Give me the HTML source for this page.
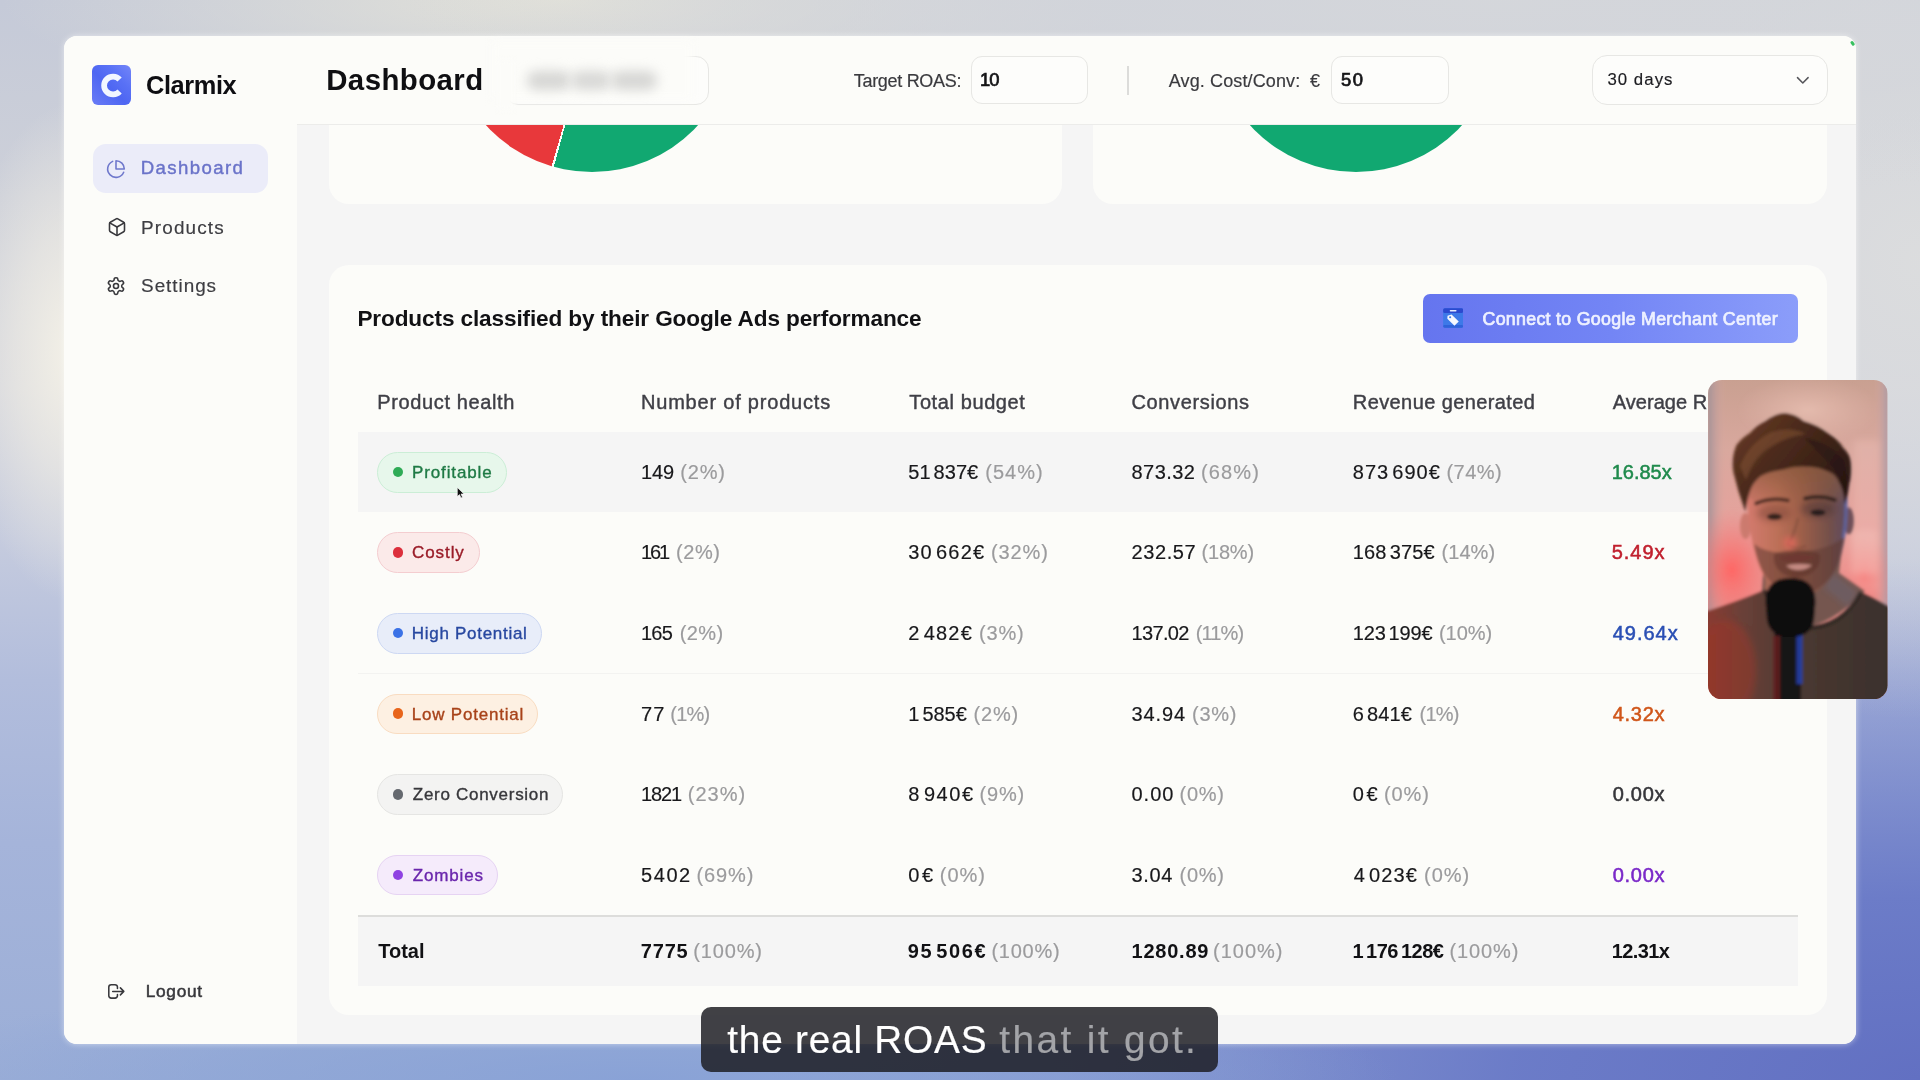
<!DOCTYPE html>
<html lang="en">
<head>
<meta charset="utf-8">
<title>Clarmix Dashboard</title>
<style>
*{box-sizing:border-box;margin:0;padding:0}
html,body{width:1920px;height:1080px;overflow:hidden}
body{font-family:"Liberation Sans",sans-serif;position:relative;background:#b9c2dc}
.a{position:absolute}
#bg{left:0;top:0;width:1920px;height:1080px;
 background:
  radial-gradient(ellipse 115px 250px at 74px 352px, rgba(244,241,231,1) 0%, rgba(241,238,229,.6) 50%, rgba(240,237,228,0) 100%),
  radial-gradient(ellipse 1100px 200px at 1500px 0px, rgba(213,215,219,.95) 0%, rgba(213,215,219,.7) 50%, rgba(213,215,219,0) 100%),
  radial-gradient(ellipse 560px 110px at 560px 0px, rgba(228,227,217,.95) 0%, rgba(226,226,218,0) 100%),
  radial-gradient(ellipse 420px 460px at 1920px 260px, rgba(220,221,222,.95) 0%, rgba(218,219,222,.6) 50%, rgba(218,219,222,0) 100%),
  radial-gradient(ellipse 760px 110px at 640px 1080px, rgba(134,160,214,.85) 0%, rgba(136,162,214,.5) 55%, rgba(140,164,214,0) 100%),
  radial-gradient(ellipse 1150px 520px at 1920px 1080px, rgba(98,112,194,1) 0%, rgba(102,118,198,.9) 35%, rgba(110,130,205,0) 100%),
  linear-gradient(180deg,#c5cad8 0%,#cdd0d9 18%,#d1d3dc 36%,#c5cbde 50%,#b2bddc 63%,#a5b4da 78%,#9baed7 100%);}
#win{left:64px;top:36px;width:1792px;height:1007.5px;border-radius:13px;background:#fcfcf9;overflow:hidden;box-shadow:0 0 6px rgba(255,255,255,.55)}
.card{background:#fcfcf9;border-radius:20px}
.inp{border:1px solid #e7e7e4;background:#fdfdfb}
.pill{height:40.5px;border-radius:21px;border:1px solid;left:377.3px}
.dot{width:10.6px;height:10.6px;border-radius:50%;left:392.7px}
.t{position:absolute;white-space:pre;line-height:1}
.sp{display:inline-block;width:3px}
.tl{left:0;top:0;width:1920px;height:1080px;will-change:transform}
</style>
</head>
<body>
<div id="bg" class="a"></div>

<!-- app window; children use window-relative coords (page x-64, page y-36) -->
<div id="win" class="a">
  <!-- main scroll area -->
  <div class="a" style="left:233px;top:88px;width:1559px;height:920px;background:#f5f5f5"></div>
  <!-- chart cards (cut by header) -->
  <div class="card a" style="left:264.5px;top:-40px;width:733.5px;height:207.7px"></div>
  <div class="card a" style="left:1029px;top:-40px;width:734px;height:207.7px"></div>
  <!-- pies -->
  <div class="a" style="left:383.5px;top:-152px;width:288px;height:288px;border-radius:50%;background:conic-gradient(from 0deg,#11a871 0deg,#11a871 195.4deg,#fcfcf9 195.4deg,#fcfcf9 196.3deg,#e8383b 196.3deg,#e8383b 300deg,#11a871 300deg)"></div>
  <div class="a" style="left:1148px;top:-152px;width:288px;height:288px;border-radius:50%;background:#11a871"></div>
  <!-- table card -->
  <div class="card a" style="left:264.5px;top:229px;width:1498px;height:749.5px"></div>
  <!-- header bar -->
  <div class="a" style="left:233px;top:0;width:1559px;height:88.5px;background:#fcfcf9;border-bottom:1px solid #ececea"></div>
  <!-- sidebar -->
  <div class="a" style="left:0;top:0;width:233px;height:1008px;background:#fcfcf9"></div>
</div>

<!-- ===== sidebar ===== -->
<div class="a" style="left:92.25px;top:65.25px;width:38.75px;height:39.5px;border-radius:6px;background:linear-gradient(45deg,#6a7cf6 0%,#4e66f2 45%,#5a72f6 70%,#7486f8 100%)"></div>
<svg class="a" style="left:92px;top:65px" width="40" height="40" viewBox="92 65 40 40"><path d="M119.61 91.46A8.9 8.9 0 1 1 119.61 79.54" fill="none" stroke="#f2f6ff" stroke-width="5.75"/></svg>
<div class="a" style="left:92.5px;top:144px;width:175.5px;height:48.5px;border-radius:13px;background:#ebecf9"></div>
<svg class="a" style="left:106.3px;top:158.8px" width="20" height="20" viewBox="0 0 24 24" fill="none" stroke="#6f78cc" stroke-width="1.9" stroke-linecap="round" stroke-linejoin="round"><path d="M21.21 15.89A10 10 0 1 1 8 2.83"/><path d="M22 12A10 10 0 0 0 12 2v10z"/></svg>
<svg class="a" style="left:106.5px;top:217.2px" width="20" height="20" viewBox="0 0 24 24" fill="none" stroke="#38383c" stroke-width="1.9" stroke-linecap="round" stroke-linejoin="round"><path d="M21 8a2 2 0 0 0-1-1.73l-7-4a2 2 0 0 0-2 0l-7 4A2 2 0 0 0 3 8v8a2 2 0 0 0 1 1.73l7 4a2 2 0 0 0 2 0l7-4A2 2 0 0 0 21 16Z"/><path d="m3.3 7 8.7 5 8.7-5"/><path d="M12 22V12"/></svg>
<svg class="a" style="left:106.4px;top:275.9px" width="20" height="20" viewBox="0 0 24 24" fill="none" stroke="#38383c" stroke-width="1.9" stroke-linecap="round" stroke-linejoin="round"><path d="M12.22 2h-.44a2 2 0 0 0-2 2v.18a2 2 0 0 1-1 1.73l-.43.25a2 2 0 0 1-2 0l-.15-.08a2 2 0 0 0-2.73.73l-.22.38a2 2 0 0 0 .73 2.73l.15.1a2 2 0 0 1 1 1.72v.51a2 2 0 0 1-1 1.74l-.15.09a2 2 0 0 0-.73 2.73l.22.38a2 2 0 0 0 2.73.73l.15-.08a2 2 0 0 1 2 0l.43.25a2 2 0 0 1 1 1.73V20a2 2 0 0 0 2 2h.44a2 2 0 0 0 2-2v-.18a2 2 0 0 1 1-1.73l.43-.25a2 2 0 0 1 2 0l.15.08a2 2 0 0 0 2.73-.73l.22-.39a2 2 0 0 0-.73-2.73l-.15-.08a2 2 0 0 1-1-1.74v-.5a2 2 0 0 1 1-1.74l.15-.09a2 2 0 0 0 .73-2.73l-.22-.38a2 2 0 0 0-2.73-.73l-.15.08a2 2 0 0 1-2 0l-.43-.25a2 2 0 0 1-1-1.73V4a2 2 0 0 0-2-2z"/><circle cx="12" cy="12" r="3"/></svg>
<svg class="a" style="left:104px;top:980px" width="24" height="24" viewBox="104 980 24 24" fill="none" stroke="#38383c" stroke-width="1.55" stroke-linecap="round" stroke-linejoin="round"><path d="M117.45 988.4V987.1A2.4 2.4 0 0 0 115.05 984.7H111.2A2.4 2.4 0 0 0 108.8 987.1V995.7A2.4 2.4 0 0 0 111.2 998.1H115.05A2.4 2.4 0 0 0 117.45 995.7V994.4"/><path d="M112.7 991.4H123.5M120.4 987.9L123.8 991.4L120.4 994.9"/></svg>

<div class="a" style="left:1850.5px;top:40.5px;width:2.6px;height:4.6px;border-radius:1.3px;background:#38c060;transform:rotate(-35deg)"></div>
<!-- ===== header controls ===== -->
<div class="a inp" style="left:505px;top:55.5px;width:204px;height:49px;border-radius:13px"></div>
<div class="a" style="left:492px;top:42px;width:200px;height:57px;background:#fcfcf9;filter:blur(5px)"></div>
<div class="a" style="left:498px;top:60px;width:16px;height:50px;background:#fcfcf9;filter:blur(3px)"></div>
<div class="a" style="left:527px;top:70.5px;width:44px;height:19px;border-radius:9px;background:#d6d6d4;filter:blur(6px)"></div>
<div class="a" style="left:571px;top:70.5px;width:40px;height:19px;border-radius:9px;background:#d8d8d6;filter:blur(6px)"></div>
<div class="a" style="left:611px;top:70.5px;width:46px;height:19px;border-radius:9px;background:#d6d6d4;filter:blur(6px)"></div>
<div class="a inp" style="left:970.5px;top:55.75px;width:117px;height:48.5px;border-radius:11px"></div>
<div class="a" style="left:1127.4px;top:66px;width:1.3px;height:29px;background:#dcdcda"></div>
<div class="a inp" style="left:1331px;top:55.75px;width:117.75px;height:48.5px;border-radius:11px"></div>
<div class="a inp" style="left:1592.25px;top:55.3px;width:235.5px;height:49.3px;border-radius:15px"></div>
<svg class="a" style="left:1795px;top:74px" width="16" height="13" viewBox="1795 74 16 13"><path d="M1797.5 77.6l5.3 5.4 5.3-5.4" fill="none" stroke="#55555a" stroke-width="1.5" stroke-linecap="round" stroke-linejoin="round"/></svg>

<!-- ===== table chrome ===== -->
<div class="a" style="left:358px;top:431.5px;width:1440px;height:80px;background:#f5f5f5"></div>
<div class="a" style="left:358px;top:673px;width:1440px;height:1px;background:#f3f3f1"></div>
<div class="a" style="left:358px;top:915px;width:1440px;height:71px;background:#f5f5f5;border-top:2px solid #dddddb"></div>

<!-- connect button -->
<div class="a" style="left:1423.25px;top:294.25px;width:374.75px;height:48.25px;border-radius:7px;background:linear-gradient(90deg,#6575ef 0%,#7385f5 50%,#8b9dfa 100%)"></div>
<svg class="a" style="left:1443px;top:308.3px" width="20.3" height="20" viewBox="0 0 20 20"><rect x="0" y="0.3" width="20" height="19.4" rx="2" fill="#3d79e8"/><rect x="0" y="17" width="20" height="2.7" rx="1.4" fill="#2f62da"/><rect x="0" y="0.3" width="20" height="4.8" rx="1.6" fill="#2b49cf"/><rect x="6.6" y="2" width="6.8" height="1.4" rx=".7" fill="#e4eaff"/><path d="M4.4 7.7l4-1.2 7.2 7-4.3 4.2-7.1-7z" fill="#f6f8ff"/><circle cx="7" cy="9.3" r="1.05" fill="#3d79e8"/></svg>

<!-- pills -->
<div class="a pill" style="top:452px;width:129.3px;background:#e7f7eb;border-color:#cbeed6"></div>
<div class="a dot" style="top:466.9px;background:#2fab56"></div>
<div class="a pill" style="top:532.2px;width:103.2px;background:#fbeae9;border-color:#f4cdd0"></div>
<div class="a dot" style="top:547.1px;background:#dc2f3c"></div>
<div class="a pill" style="top:613px;width:164.4px;background:#e8edf9;border-color:#cdd8f3"></div>
<div class="a dot" style="top:627.9px;background:#3b72e6"></div>
<div class="a pill" style="top:693.5px;width:160.4px;background:#fdf0e2;border-color:#f9dcc1"></div>
<div class="a dot" style="top:708.4px;background:#e8651b"></div>
<div class="a pill" style="top:774.1px;width:186px;background:#f3f3f2;border-color:#e5e5e3"></div>
<div class="a dot" style="top:789px;background:#65696f"></div>
<div class="a pill" style="top:854.8px;width:121px;background:#f5ebfb;border-color:#e6d3f3"></div>
<div class="a dot" style="top:869.7px;background:#8f42e2"></div>


<!-- ===== text ===== -->
<div class="a tl">
<div class="t" style="left:146.00px;top:72.70px;font-size:25.4px;font-weight:bold;color:#0e0e12;letter-spacing:-0.400px">Clarmix</div>
<div class="t" style="left:140.80px;top:159.26px;font-size:18.6px;font-weight:normal;color:#6a73c9;letter-spacing:1.387px;-webkit-text-stroke:0.42px #6a73c9">Dashboard</div>
<div class="t" style="left:141.10px;top:218.50px;font-size:18.9px;font-weight:normal;color:#3d3d42;letter-spacing:1.143px;-webkit-text-stroke:0.18px #3d3d42">Products</div>
<div class="t" style="left:141.10px;top:276.75px;font-size:18.9px;font-weight:normal;color:#3d3d42;letter-spacing:0.957px;-webkit-text-stroke:0.18px #3d3d42">Settings</div>
<div class="t" style="left:145.70px;top:983.06px;font-size:17.3px;font-weight:normal;color:#38383c;letter-spacing:0.720px;-webkit-text-stroke:0.52px #38383c">Logout</div>
<div class="t" style="left:326.20px;top:65.11px;font-size:29.4px;font-weight:bold;color:#0f0f12;letter-spacing:0.438px">Dashboard</div>
<div class="t" style="left:853.80px;top:71.76px;font-size:18px;font-weight:normal;color:#3a3a3e;letter-spacing:-0.309px;-webkit-text-stroke:0.18px #3a3a3e">Target ROAS:</div>
<div class="t" style="left:980.00px;top:71.42px;font-size:18.4px;font-weight:normal;color:#141416;letter-spacing:-1.000px;-webkit-text-stroke:0.72px #141416">10</div>
<div class="t" style="left:1168.80px;top:71.76px;font-size:18px;font-weight:normal;color:#3a3a3e;letter-spacing:0.121px;-webkit-text-stroke:0.18px #3a3a3e">Avg. Cost/Conv:</div>
<div class="t" style="left:1310.00px;top:71.76px;font-size:18px;font-weight:normal;color:#3a3a3e;letter-spacing:0.000px;-webkit-text-stroke:0.18px #3a3a3e">€</div>
<div class="t" style="left:1341.00px;top:71.42px;font-size:18.4px;font-weight:normal;color:#141416;letter-spacing:1.500px;-webkit-text-stroke:0.72px #141416">50</div>
<div class="t" style="left:1607.40px;top:71.88px;font-size:16.8px;font-weight:normal;color:#1c1c20;letter-spacing:1.050px;-webkit-text-stroke:0.18px #1c1c20">30 days</div>
<div class="t" style="left:357.40px;top:308.17px;font-size:22.6px;font-weight:bold;color:#111114;letter-spacing:-0.124px">Products classified by their Google Ads performance</div>
<div class="t" style="left:1482.50px;top:310.53px;font-size:17.8px;font-weight:normal;color:#eef1ff;letter-spacing:0.297px;-webkit-text-stroke:0.72px #eef1ff">Connect to Google Merchant Center</div>
<div class="t" style="left:377.30px;top:391.87px;font-size:20px;font-weight:normal;color:#3f3f46;letter-spacing:0.623px;-webkit-text-stroke:0.42px #3f3f46">Product health</div>
<div class="t" style="left:641.00px;top:391.87px;font-size:20px;font-weight:normal;color:#3f3f46;letter-spacing:0.794px;-webkit-text-stroke:0.42px #3f3f46">Number of products</div>
<div class="t" style="left:909.30px;top:391.87px;font-size:20px;font-weight:normal;color:#3f3f46;letter-spacing:0.600px;-webkit-text-stroke:0.42px #3f3f46">Total budget</div>
<div class="t" style="left:1131.50px;top:391.87px;font-size:20px;font-weight:normal;color:#3f3f46;letter-spacing:0.640px;-webkit-text-stroke:0.42px #3f3f46">Conversions</div>
<div class="t" style="left:1352.80px;top:391.87px;font-size:20px;font-weight:normal;color:#3f3f46;letter-spacing:0.406px;-webkit-text-stroke:0.42px #3f3f46">Revenue generated</div>
<div class="t" style="left:1612.70px;top:391.87px;font-size:20px;font-weight:normal;color:#3f3f46;letter-spacing:0.050px;-webkit-text-stroke:0.42px #3f3f46">Average ROAS</div>
<div class="t" style="left:412.00px;top:463.91px;font-size:17px;font-weight:normal;color:#1f7a45;letter-spacing:0.878px;-webkit-text-stroke:0.36px #1f7a45">Profitable</div>
<div class="t" style="left:412.00px;top:544.31px;font-size:17px;font-weight:normal;color:#9a1c28;letter-spacing:0.920px;-webkit-text-stroke:0.36px #9a1c28">Costly</div>
<div class="t" style="left:411.80px;top:625.11px;font-size:17px;font-weight:normal;color:#2848a0;letter-spacing:0.708px;-webkit-text-stroke:0.36px #2848a0">High Potential</div>
<div class="t" style="left:411.80px;top:705.61px;font-size:17px;font-weight:normal;color:#a8431a;letter-spacing:0.792px;-webkit-text-stroke:0.36px #a8431a">Low Potential</div>
<div class="t" style="left:412.80px;top:786.21px;font-size:17px;font-weight:normal;color:#37373b;letter-spacing:0.714px;-webkit-text-stroke:0.36px #37373b">Zero Conversion</div>
<div class="t" style="left:412.80px;top:866.81px;font-size:17px;font-weight:normal;color:#6a26ac;letter-spacing:0.833px;-webkit-text-stroke:0.36px #6a26ac">Zombies</div>
<div class="t" style="left:641.00px;top:461.87px;font-size:20px;font-weight:normal;color:#18181b;letter-spacing:-0.125px;-webkit-text-stroke:0.18px #18181b">149</div>
<div class="t" style="left:680.25px;top:461.87px;font-size:20px;font-weight:normal;color:#9b9b9d;letter-spacing:0.833px;-webkit-text-stroke:0.18px #9b9b9d">(2%)</div>
<div class="t" style="left:908.25px;top:461.87px;font-size:20px;font-weight:normal;color:#18181b;letter-spacing:0.042px;-webkit-text-stroke:0.18px #18181b">51<span class="sp"></span>837€</div>
<div class="t" style="left:985.25px;top:461.87px;font-size:20px;font-weight:normal;color:#9b9b9d;letter-spacing:1.000px;-webkit-text-stroke:0.18px #9b9b9d">(54%)</div>
<div class="t" style="left:1131.50px;top:461.87px;font-size:20px;font-weight:normal;color:#18181b;letter-spacing:0.450px;-webkit-text-stroke:0.18px #18181b">873.32</div>
<div class="t" style="left:1201.00px;top:461.87px;font-size:20px;font-weight:normal;color:#9b9b9d;letter-spacing:1.125px;-webkit-text-stroke:0.18px #9b9b9d">(68%)</div>
<div class="t" style="left:1352.75px;top:461.87px;font-size:20px;font-weight:normal;color:#18181b;letter-spacing:1.036px;-webkit-text-stroke:0.18px #18181b">873<span class="sp"></span>690€</div>
<div class="t" style="left:1446.50px;top:461.87px;font-size:20px;font-weight:normal;color:#9b9b9d;letter-spacing:0.438px;-webkit-text-stroke:0.18px #9b9b9d">(74%)</div>
<div class="t" style="left:1611.70px;top:461.87px;font-size:20px;font-weight:normal;color:#1f8a4c;letter-spacing:-0.020px;-webkit-text-stroke:0.52px #1f8a4c">16.85x</div>
<div class="t" style="left:641.00px;top:542.47px;font-size:20px;font-weight:normal;color:#18181b;letter-spacing:-2.125px;-webkit-text-stroke:0.18px #18181b">161</div>
<div class="t" style="left:676.00px;top:542.47px;font-size:20px;font-weight:normal;color:#9b9b9d;letter-spacing:0.583px;-webkit-text-stroke:0.18px #9b9b9d">(2%)</div>
<div class="t" style="left:908.25px;top:542.47px;font-size:20px;font-weight:normal;color:#18181b;letter-spacing:1.250px;-webkit-text-stroke:0.18px #18181b">30<span class="sp"></span>662€</div>
<div class="t" style="left:991.00px;top:542.47px;font-size:20px;font-weight:normal;color:#9b9b9d;letter-spacing:0.875px;-webkit-text-stroke:0.18px #9b9b9d">(32%)</div>
<div class="t" style="left:1131.50px;top:542.47px;font-size:20px;font-weight:normal;color:#18181b;letter-spacing:0.600px;-webkit-text-stroke:0.18px #18181b">232.57</div>
<div class="t" style="left:1201.50px;top:542.47px;font-size:20px;font-weight:normal;color:#9b9b9d;letter-spacing:-0.188px;-webkit-text-stroke:0.18px #9b9b9d">(18%)</div>
<div class="t" style="left:1352.75px;top:542.47px;font-size:20px;font-weight:normal;color:#18181b;letter-spacing:0.179px;-webkit-text-stroke:0.18px #18181b">168<span class="sp"></span>375€</div>
<div class="t" style="left:1441.50px;top:542.47px;font-size:20px;font-weight:normal;color:#9b9b9d;letter-spacing:0.062px;-webkit-text-stroke:0.18px #9b9b9d">(14%)</div>
<div class="t" style="left:1611.70px;top:542.47px;font-size:20px;font-weight:normal;color:#c0202e;letter-spacing:1.000px;-webkit-text-stroke:0.52px #c0202e">5.49x</div>
<div class="t" style="left:641.00px;top:623.07px;font-size:20px;font-weight:normal;color:#18181b;letter-spacing:-0.750px;-webkit-text-stroke:0.18px #18181b">165</div>
<div class="t" style="left:679.75px;top:623.07px;font-size:20px;font-weight:normal;color:#9b9b9d;letter-spacing:0.417px;-webkit-text-stroke:0.18px #9b9b9d">(2%)</div>
<div class="t" style="left:908.25px;top:623.07px;font-size:20px;font-weight:normal;color:#18181b;letter-spacing:1.250px;-webkit-text-stroke:0.18px #18181b">2<span class="sp"></span>482€</div>
<div class="t" style="left:979.00px;top:623.07px;font-size:20px;font-weight:normal;color:#9b9b9d;letter-spacing:0.833px;-webkit-text-stroke:0.18px #9b9b9d">(3%)</div>
<div class="t" style="left:1131.50px;top:623.07px;font-size:20px;font-weight:normal;color:#18181b;letter-spacing:-0.650px;-webkit-text-stroke:0.18px #18181b">137.02</div>
<div class="t" style="left:1195.75px;top:623.07px;font-size:20px;font-weight:normal;color:#9b9b9d;letter-spacing:-0.875px;-webkit-text-stroke:0.18px #9b9b9d">(11%)</div>
<div class="t" style="left:1352.75px;top:623.07px;font-size:20px;font-weight:normal;color:#18181b;letter-spacing:-0.179px;-webkit-text-stroke:0.18px #18181b">123<span class="sp"></span>199€</div>
<div class="t" style="left:1439.00px;top:623.07px;font-size:20px;font-weight:normal;color:#9b9b9d;letter-spacing:-0.062px;-webkit-text-stroke:0.18px #9b9b9d">(10%)</div>
<div class="t" style="left:1612.70px;top:623.07px;font-size:20px;font-weight:normal;color:#2a4fb4;letter-spacing:1.000px;-webkit-text-stroke:0.52px #2a4fb4">49.64x</div>
<div class="t" style="left:641.00px;top:703.57px;font-size:20px;font-weight:normal;color:#18181b;letter-spacing:1.250px;-webkit-text-stroke:0.18px #18181b">77</div>
<div class="t" style="left:670.25px;top:703.57px;font-size:20px;font-weight:normal;color:#9b9b9d;letter-spacing:-0.750px;-webkit-text-stroke:0.18px #9b9b9d">(1%)</div>
<div class="t" style="left:908.25px;top:703.57px;font-size:20px;font-weight:normal;color:#18181b;letter-spacing:0.000px;-webkit-text-stroke:0.18px #18181b">1<span class="sp"></span>585€</div>
<div class="t" style="left:973.50px;top:703.57px;font-size:20px;font-weight:normal;color:#9b9b9d;letter-spacing:0.833px;-webkit-text-stroke:0.18px #9b9b9d">(2%)</div>
<div class="t" style="left:1131.50px;top:703.57px;font-size:20px;font-weight:normal;color:#18181b;letter-spacing:0.875px;-webkit-text-stroke:0.18px #18181b">34.94</div>
<div class="t" style="left:1192.00px;top:703.57px;font-size:20px;font-weight:normal;color:#9b9b9d;letter-spacing:0.750px;-webkit-text-stroke:0.18px #9b9b9d">(3%)</div>
<div class="t" style="left:1352.75px;top:703.57px;font-size:20px;font-weight:normal;color:#18181b;letter-spacing:0.150px;-webkit-text-stroke:0.18px #18181b">6<span class="sp"></span>841€</div>
<div class="t" style="left:1419.50px;top:703.57px;font-size:20px;font-weight:normal;color:#9b9b9d;letter-spacing:-0.750px;-webkit-text-stroke:0.18px #9b9b9d">(1%)</div>
<div class="t" style="left:1612.70px;top:703.57px;font-size:20px;font-weight:normal;color:#d0561a;letter-spacing:0.750px;-webkit-text-stroke:0.52px #d0561a">4.32x</div>
<div class="t" style="left:641.00px;top:784.27px;font-size:20px;font-weight:normal;color:#18181b;letter-spacing:-1.083px;-webkit-text-stroke:0.18px #18181b">1821</div>
<div class="t" style="left:687.75px;top:784.27px;font-size:20px;font-weight:normal;color:#9b9b9d;letter-spacing:1.000px;-webkit-text-stroke:0.18px #9b9b9d">(23%)</div>
<div class="t" style="left:908.25px;top:784.27px;font-size:20px;font-weight:normal;color:#18181b;letter-spacing:1.550px;-webkit-text-stroke:0.18px #18181b">8<span class="sp"></span>940€</div>
<div class="t" style="left:979.50px;top:784.27px;font-size:20px;font-weight:normal;color:#9b9b9d;letter-spacing:0.833px;-webkit-text-stroke:0.18px #9b9b9d">(9%)</div>
<div class="t" style="left:1131.50px;top:784.27px;font-size:20px;font-weight:normal;color:#18181b;letter-spacing:1.000px;-webkit-text-stroke:0.18px #18181b">0.00</div>
<div class="t" style="left:1179.50px;top:784.27px;font-size:20px;font-weight:normal;color:#9b9b9d;letter-spacing:0.750px;-webkit-text-stroke:0.18px #9b9b9d">(0%)</div>
<div class="t" style="left:1352.75px;top:784.27px;font-size:20px;font-weight:normal;color:#18181b;letter-spacing:2.750px;-webkit-text-stroke:0.18px #18181b">0€</div>
<div class="t" style="left:1384.00px;top:784.27px;font-size:20px;font-weight:normal;color:#9b9b9d;letter-spacing:0.917px;-webkit-text-stroke:0.18px #9b9b9d">(0%)</div>
<div class="t" style="left:1612.70px;top:784.27px;font-size:20px;font-weight:normal;color:#36363a;letter-spacing:0.750px;-webkit-text-stroke:0.52px #36363a">0.00x</div>
<div class="t" style="left:641.00px;top:864.97px;font-size:20px;font-weight:normal;color:#18181b;letter-spacing:1.583px;-webkit-text-stroke:0.18px #18181b">5402</div>
<div class="t" style="left:696.50px;top:864.97px;font-size:20px;font-weight:normal;color:#9b9b9d;letter-spacing:0.875px;-webkit-text-stroke:0.18px #9b9b9d">(69%)</div>
<div class="t" style="left:908.25px;top:864.97px;font-size:20px;font-weight:normal;color:#18181b;letter-spacing:2.750px;-webkit-text-stroke:0.18px #18181b">0€</div>
<div class="t" style="left:939.75px;top:864.97px;font-size:20px;font-weight:normal;color:#9b9b9d;letter-spacing:1.000px;-webkit-text-stroke:0.18px #9b9b9d">(0%)</div>
<div class="t" style="left:1131.50px;top:864.97px;font-size:20px;font-weight:normal;color:#18181b;letter-spacing:0.667px;-webkit-text-stroke:0.18px #18181b">3.04</div>
<div class="t" style="left:1179.50px;top:864.97px;font-size:20px;font-weight:normal;color:#9b9b9d;letter-spacing:0.750px;-webkit-text-stroke:0.18px #9b9b9d">(0%)</div>
<div class="t" style="left:1353.75px;top:864.97px;font-size:20px;font-weight:normal;color:#18181b;letter-spacing:1.150px;-webkit-text-stroke:0.18px #18181b">4<span class="sp"></span>023€</div>
<div class="t" style="left:1424.00px;top:864.97px;font-size:20px;font-weight:normal;color:#9b9b9d;letter-spacing:1.000px;-webkit-text-stroke:0.18px #9b9b9d">(0%)</div>
<div class="t" style="left:1612.70px;top:864.97px;font-size:20px;font-weight:normal;color:#7a28c8;letter-spacing:0.750px;-webkit-text-stroke:0.52px #7a28c8">0.00x</div>
<div class="t" style="left:378.30px;top:941.37px;font-size:20px;font-weight:bold;color:#111114;letter-spacing:-0.025px">Total</div>
<div class="t" style="left:640.80px;top:941.37px;font-size:20px;font-weight:bold;color:#111114;letter-spacing:0.800px">7775</div>
<div class="t" style="left:907.80px;top:941.37px;font-size:20px;font-weight:bold;color:#111114;letter-spacing:1.617px">95<span class="sp"></span>506€</div>
<div class="t" style="left:1131.50px;top:941.37px;font-size:20px;font-weight:bold;color:#111114;letter-spacing:0.767px">1280.89</div>
<div class="t" style="left:1352.40px;top:941.37px;font-size:20px;font-weight:bold;color:#111114;letter-spacing:-0.489px">1<span class="sp"></span>176<span class="sp"></span>128€</div>
<div class="t" style="left:1611.70px;top:941.37px;font-size:20px;font-weight:bold;color:#111114;letter-spacing:-0.620px">12.31x</div>
<div class="t" style="left:693.30px;top:941.37px;font-size:20px;font-weight:normal;color:#9b9b9d;letter-spacing:0.840px;-webkit-text-stroke:0.18px #9b9b9d">(100%)</div>
<div class="t" style="left:991.40px;top:941.37px;font-size:20px;font-weight:normal;color:#9b9b9d;letter-spacing:0.760px;-webkit-text-stroke:0.18px #9b9b9d">(100%)</div>
<div class="t" style="left:1213.00px;top:941.37px;font-size:20px;font-weight:normal;color:#9b9b9d;letter-spacing:1.000px;-webkit-text-stroke:0.18px #9b9b9d">(100%)</div>
<div class="t" style="left:1449.40px;top:941.37px;font-size:20px;font-weight:normal;color:#9b9b9d;letter-spacing:0.900px;-webkit-text-stroke:0.18px #9b9b9d">(100%)</div>
</div>
<!-- mouse cursor -->
<svg class="a" style="left:455.5px;top:485.5px" width="10" height="14" viewBox="0 0 10 14"><path d="M1.3 1.4v9.2l2.2-2 1.5 3.4 1.5-.7-1.5-3.3h3z" fill="#111" stroke="#fff" stroke-width=".6" stroke-linejoin="round"/></svg>

<!-- ===== webcam overlay ===== -->
<svg class="a" style="left:1708.3px;top:380px" width="179.5" height="319.3" viewBox="0 0 179.5 319.3">
<defs>
<clipPath id="wc"><rect x="0" y="0" width="179.5" height="319.3" rx="14" ry="14"/></clipPath>
<linearGradient id="wbg" x1="0" y1="0" x2="0" y2="1"><stop offset="0" stop-color="#c9a091"/><stop offset=".22" stop-color="#d9a89e"/><stop offset=".45" stop-color="#e6a29c"/><stop offset=".66" stop-color="#ee9490"/><stop offset="1" stop-color="#c86c68"/></linearGradient>
<linearGradient id="wleft" x1="0" y1="0" x2="1" y2="0"><stop offset="0" stop-color="#a09098" stop-opacity=".95"/><stop offset="1" stop-color="#d8a8a0" stop-opacity="0"/></linearGradient>
<linearGradient id="wright" x1="1" y1="0" x2="0" y2="0"><stop offset="0" stop-color="#a89aa8" stop-opacity=".9"/><stop offset="1" stop-color="#d8a8a0" stop-opacity="0"/></linearGradient>
<radialGradient id="wred" cx=".5" cy=".5" r=".5"><stop offset="0" stop-color="#ff6462" stop-opacity=".95"/><stop offset="1" stop-color="#f08080" stop-opacity="0"/></radialGradient>
<radialGradient id="wlite" cx=".5" cy=".5" r=".5"><stop offset="0" stop-color="#ecc4b6" stop-opacity=".7"/><stop offset="1" stop-color="#e8bcb0" stop-opacity="0"/></radialGradient>
<linearGradient id="wface" x1="0" y1="0" x2="1" y2="0"><stop offset="0" stop-color="#d47a6e"/><stop offset=".3" stop-color="#bc7058"/><stop offset=".55" stop-color="#9c5e48"/><stop offset=".82" stop-color="#74504a"/><stop offset="1" stop-color="#5e4c60"/></linearGradient>
<linearGradient id="wfore" x1="0" y1="0" x2="0" y2="1"><stop offset="0" stop-color="#84563a" stop-opacity=".85"/><stop offset="1" stop-color="#8e5c40" stop-opacity="0"/></linearGradient>
<linearGradient id="wshirt" x1="0" y1="0" x2="1" y2="0"><stop offset="0" stop-color="#8c3a30"/><stop offset=".2" stop-color="#6a4038"/><stop offset=".5" stop-color="#4a3830"/><stop offset="1" stop-color="#3a302c"/></linearGradient>
<linearGradient id="whair" x1="0" y1="0" x2="1" y2=".7"><stop offset="0" stop-color="#6c3c26"/><stop offset=".4" stop-color="#4e2c1c"/><stop offset="1" stop-color="#2a1812"/></linearGradient>
<filter id="wb" x="-5%" y="-5%" width="110%" height="110%"><feGaussianBlur stdDeviation="1.5"/></filter>
<filter id="wb3" x="-30%" y="-30%" width="160%" height="160%"><feGaussianBlur stdDeviation="3.2"/></filter>
</defs>
<g clip-path="url(#wc)">
<rect width="179.5" height="319.3" fill="url(#wbg)"/>
<g filter="url(#wb)">
<ellipse cx="100" cy="30" rx="70" ry="34" fill="url(#wlite)"/>
<rect x="0" y="0" width="18" height="235" fill="url(#wleft)"/>
<rect x="166" y="0" width="14" height="235" fill="url(#wright)"/>
<rect x="146" y="60" width="26" height="150" fill="#f4c6c0" opacity=".28" filter="url(#wb3)"/>
<ellipse cx="24" cy="190" rx="46" ry="62" fill="url(#wred)"/>
<ellipse cx="156" cy="196" rx="30" ry="40" fill="url(#wred)" opacity=".5"/>
<rect x="142" y="150" width="28" height="44" fill="#f8ccc4" opacity=".3" filter="url(#wb3)"/>
<!-- neck -->
<path d="M56 180 L53 224 Q92 276 157 211 L131 193 L134 168 Z" fill="#74574f"/>
<path d="M58 180 L56 224 Q68 242 84 246 L86 190 Z" fill="#b06a58" opacity=".85"/>
<path d="M124 192 Q136 202 150 212 L140 228 Q128 216 116 208Z" fill="#686274" opacity=".5" filter="url(#wb3)"/>
<!-- shirt -->
<path d="M-4 232 Q28 222 56.7 210 Q66 240 98 246 Q134 246 153 212 Q166 218 184 228 L184 324 L-4 324 Z" fill="url(#wshirt)"/>
<path d="M56.7 210 Q66 241 98 248 Q134 248 153 212" fill="none" stroke="#2a2320" stroke-width="4" opacity=".8"/>
<ellipse cx="18" cy="290" rx="30" ry="50" fill="#a03628" opacity=".45" filter="url(#wb3)"/>
<!-- ears -->
<ellipse cx="37.5" cy="146" rx="5.5" ry="13" fill="#cc7a6e"/>
<ellipse cx="141" cy="141" rx="5" ry="13.5" fill="#6e5058"/>
<!-- face -->
<path d="M39 120 Q40 84 58 78 L124 76 Q139 84 139 120 Q140 150 133 176 Q126 200 108 212 Q98 216 88 215 Q68 212 56 196 Q42 170 39 120 Z" fill="url(#wface)"/>
<path d="M41 118 Q42 90 58 80 L124 78 Q138 90 138 118 Q120 130 90 130 Q60 132 41 118Z" fill="url(#wfore)"/>
<!-- blue rim light -->
<path d="M137.5 108 Q139.5 135 135.5 158" fill="none" stroke="#5c6cb8" stroke-width="3" opacity=".7"/>
<!-- eye sockets shadow -->
<ellipse cx="66" cy="133" rx="17" ry="8.5" fill="#7a4438" opacity=".5" filter="url(#wb3)"/>
<ellipse cx="110" cy="129" rx="17" ry="8.5" fill="#4e3434" opacity=".55" filter="url(#wb3)"/>
<!-- beard shadow -->
<path d="M46 164 Q62 176 88 171 Q116 172 135 158 Q133 184 122 198 Q108 214 90 215 Q68 212 56 194 Q49 181 46 164 Z" fill="#5e3a32" opacity=".55"/>
<path d="M66 174 Q88 166 112 174 Q114 194 88 198 Q64 194 66 174Z" fill="#5a3028" opacity=".5"/>
<!-- hair -->
<path d="M37.5 132 Q30 112 25.3 92 Q23 78 28.4 65 Q36 56 42 53 Q50 44 57.4 41 Q68 33 77.3 33 Q88 34 95.6 41 Q110 45 120 53 Q131 60 135.3 68 Q142 74 143 82 Q144 96 141.5 104 Q140 116 137 124 Q135 108 130.8 102 Q128 95 123 92.8 Q110 86 98.7 86.7 Q86 86 74.2 89.7 Q62 91 52.8 95.9 Q45 102 42.1 111 Q39 120 37.5 132 Z" fill="url(#whair)"/>
<path d="M32 86 Q42 62 64 52 Q82 46 98 54 Q80 56 64 66 Q46 76 38 100 Z" fill="#96603c" opacity=".38"/>
<path d="M96 58 Q118 60 136 80 Q140 96 137 114 Q131 92 118 80 Q108 70 96 58Z" fill="#241410" opacity=".5"/>
<!-- brows/eyes -->
<path d="M48 123.5 Q63 117 80 120.5" stroke="#4a2a20" stroke-width="3.6" fill="none" stroke-linecap="round"/>
<path d="M97 118.5 Q112 114.5 127 120" stroke="#32201c" stroke-width="3.6" fill="none" stroke-linecap="round"/>
<ellipse cx="66.5" cy="136.7" rx="7.5" ry="3.2" fill="#33201e"/>
<ellipse cx="110" cy="132.6" rx="7.5" ry="3.2" fill="#261a1c"/>
<!-- nose / mouth -->
<path d="M90 138 Q86 156 80 164 Q87 171 98 166" stroke="#7e4a3c" stroke-width="2.4" fill="none" opacity=".65"/>
<ellipse cx="82" cy="163" rx="7" ry="6" fill="#ee6a60" opacity=".75" filter="url(#wb3)"/>
<path d="M70 178 Q88 171 108 177 Q98 182 88 182 Q78 182 70 178Z" fill="#6e3830"/>
<path d="M78 185.5 Q90 183 104 185 Q99 190 90 190 Q83 190 78 185.5Z" fill="#c48a82"/>
<!-- mic -->
<rect x="66.5" y="250" width="26.5" height="78" fill="#141216"/>
<rect x="88.5" y="254" width="6" height="50" fill="#2443b0" opacity=".85"/>
<rect x="65" y="256" width="7" height="70" fill="#6a2222" opacity=".8"/>
<path d="M57.5 222 Q57.5 198 82.5 198 Q107.5 198 107.5 222 L106 240 Q103 257 82.5 257 Q62 257 59 240 Z" fill="#09080c"/>
</g>
</g>
</svg>


<!-- caption -->
<div class="a" style="left:701px;top:1007.3px;width:517.3px;height:64.4px;border-radius:10px;background:rgba(26,27,32,.83)"></div>
<div class="a tl">
<div class="t" style="left:727.30px;top:1021.46px;font-size:38.8px;font-weight:normal;color:#ffffff;letter-spacing:0.758px;-webkit-text-stroke:0.18px #ffffff">the real ROAS</div>
<div class="t" style="left:999.30px;top:1021.46px;font-size:38.8px;font-weight:normal;color:#a3a4a8;letter-spacing:2.382px;-webkit-text-stroke:0.18px #a3a4a8">that it got.</div>
</div>
</body>
</html>
